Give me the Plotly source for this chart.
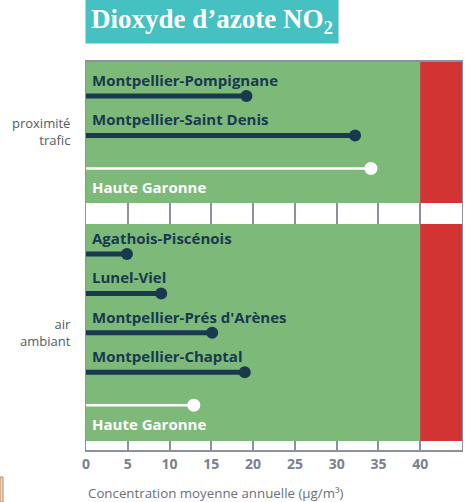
import plotly.graph_objects as go

# Annual mean NO2 concentration (µg/m³) per monitoring station
traffic_stations = ["Montpellier-Pompignane", "Montpellier-Saint Denis"]
traffic_values = [19.2, 32.2]
traffic_ref_label = "Haute Garonne"
traffic_ref_value = 34.1

ambient_stations = ["Agathois-Piscénois", "Lunel-Viel", "Montpellier-Prés d'Arènes", "Montpellier-Chaptal"]
ambient_values = [4.9, 9.0, 15.1, 19.0]
ambient_ref_label = "Haute Garonne"
ambient_ref_value = 12.9

group_labels = ["proximité<br>trafic", "air<br>ambiant"]
limit_value = 40
x_ticks = [0, 5, 10, 15, 20, 25, 30, 35, 40]

# Colours
GREEN = "#7dba7a"
RED = "#d23434"
NAVY = "#19394f"
GRID = "#8c90a2"
TEAL = "#45c1c1"

# Vertical layout (y axis runs in pixel-like units, 0 at the bottom)
Y_TOP = 388
ROW = 39.4
REF_GAP = 33
BAND_TOP = (388, 247)
BAND_BOTTOM = (226, 9)
X_MAX = 45

def group_rows(start, n):
    rows = [start - i * ROW for i in range(n)]
    ref = rows[-1] - REF_GAP
    return rows, ref

t_rows, t_ref = group_rows(354, len(traffic_stations))
a_rows, a_ref = group_rows(196, len(ambient_stations))

fig = go.Figure()

def add_series(xs, ys, color, width, size):
    lx, ly = [], []
    for v, y in zip(xs, ys):
        lx += [0, v, None]
        ly += [y, y, None]
    fig.add_trace(go.Scatter(x=lx, y=ly, mode="lines",
                             line=dict(color=color, width=width),
                             hoverinfo="skip", showlegend=False))
    fig.add_trace(go.Scatter(x=xs, y=ys, mode="markers",
                             marker=dict(color=color, size=size),
                             showlegend=False))

add_series(traffic_values + ambient_values, t_rows + a_rows, NAVY, 5, 12)
add_series([traffic_ref_value, ambient_ref_value], [t_ref, a_ref], "white", 2.5, 13)

label_font = dict(family="Open Sans", size=15, color=NAVY)
for name, y in zip(traffic_stations + ambient_stations, t_rows + a_rows):
    fig.add_annotation(x=0, y=y + 16, text=f"<b>{name}</b>", showarrow=False,
                       xanchor="left", yanchor="middle", xshift=4, font=label_font)
for name, y in [(traffic_ref_label, t_ref), (ambient_ref_label, a_ref)]:
    fig.add_annotation(x=0, y=y - 19, text=f"<b>{name}</b>", showarrow=False,
                       xanchor="left", yanchor="middle", xshift=4,
                       font=dict(family="Open Sans", size=15, color="white"))

# Green (below limit) and red (above limit) bands for each group
for y0, y1 in [BAND_TOP, BAND_BOTTOM]:
    fig.add_shape(type="rect", xref="x", yref="y", x0=0, x1=limit_value, y0=y1, y1=y0,
                  fillcolor=GREEN, line_width=0, layer="between")
    fig.add_shape(type="rect", xref="x", yref="y", x0=limit_value, x1=X_MAX, y0=y1, y1=y0,
                  fillcolor=RED, line_width=0, layer="between")

# Title box
fig.add_annotation(xref="paper", yref="paper", x=-0.003, y=1.165,
                   xanchor="left", yanchor="top",
                   text="<b>Dioxyde d’azote NO<sub>2</sub></b>", showarrow=False,
                   font=dict(family="Liberation Serif", size=27, color="white"),
                   bgcolor=TEAL, borderpad=5)

# Axis title, aligned with the left edge of the plot
fig.add_annotation(xref="paper", yref="paper", x=0, y=-0.111,
                   xanchor="left", yanchor="middle", showarrow=False,
                   text="Concentration moyenne annuelle (µg/m³)",
                   font=dict(family="Open Sans", size=13.3, color="#6b6f7b"))

# Small frame at the lower left edge
fig.add_shape(type="rect", xref="paper", yref="paper",
              x0=-0.2287, x1=-0.2207, y0=-0.134, y1=-0.0696,
              fillcolor="#eed8c4", line=dict(color="#b98a62", width=1))

fig.update_xaxes(range=[0, X_MAX], tickvals=x_ticks, showgrid=True, gridcolor=GRID,
                 gridwidth=2, zeroline=False, showline=True, linecolor=GRID,
                 linewidth=2, mirror=True, ticks="",
                 tickfont=dict(family="Open Sans", size=14, color="#7b8090", weight="bold"))
fig.update_yaxes(range=[0, Y_TOP], tickvals=[(t_rows[0] + t_ref) / 2 + 0.5, (a_rows[0] + a_ref) / 2 - 3],
                 ticktext=group_labels, showgrid=False, zeroline=False,
                 showline=True, linecolor=GRID, linewidth=1, mirror=True,
                 ticks="outside", ticklen=12, tickcolor="rgba(0,0,0,0)",
                 tickfont=dict(family="Open Sans", size=13, color="#555a63"))

fig.update_layout(width=469, height=502, margin=dict(l=86, r=7, t=62, b=52),
                  plot_bgcolor="white", paper_bgcolor="white", showlegend=False)

fig.write_html("out.html")
